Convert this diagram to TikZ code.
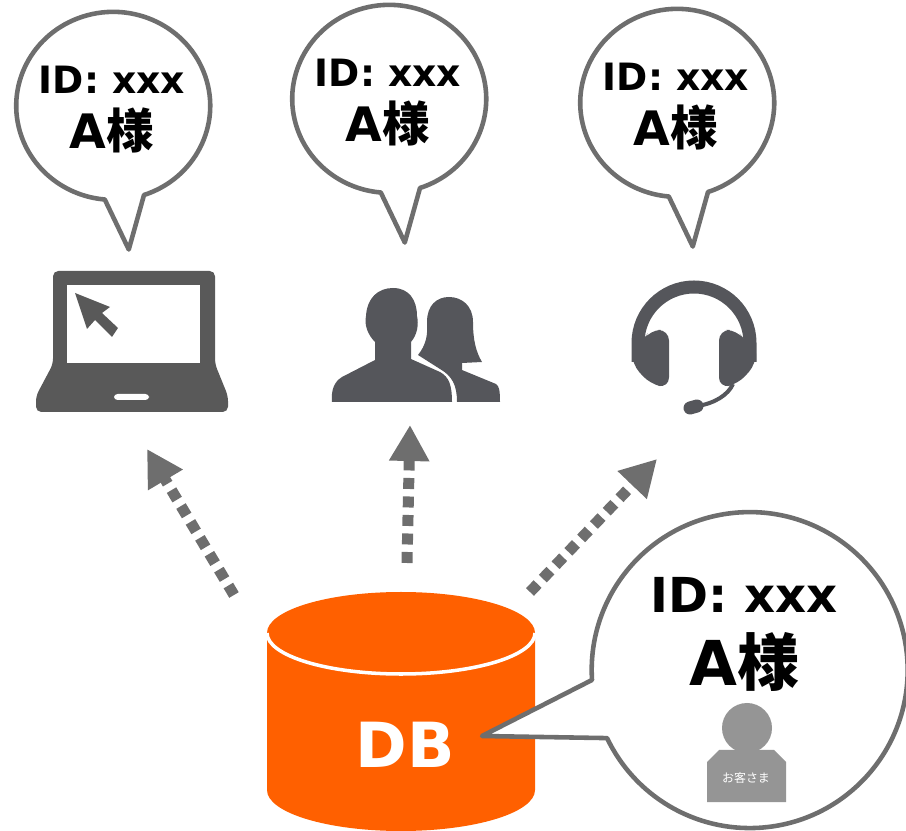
\documentclass[tikz,border=0pt]{standalone}
\usepackage{fontspec}
\setmainfont{DejaVu Sans}
\newfontfamily\jpfont{Noto Sans CJK JP}
\usetikzlibrary{arrows.meta}
\newcommand{\sama}{A{\jpfont 様}}
\definecolor{dborange}{HTML}{FF6000}
\definecolor{bubbleline}{HTML}{6E6E6E}
\definecolor{icongray}{HTML}{595959}
\definecolor{icondark}{HTML}{55565B}
\definecolor{staffgray}{HTML}{959595}
\tikzset{
  bubble/.style={draw=bubbleline,line width=1.3pt,fill=white,line join=round},
  idlabel/.style={font=\bfseries\fontsize{10.7}{12}\selectfont,inner sep=0pt},
  namelabel/.style={font=\bfseries\fontsize{13.5}{15}\selectfont,inner sep=0pt},
  flow/.style={draw=bubbleline,line width=.11cm,dash pattern=on .11cm off .075cm,
    -{Triangle[length=.36cm,width=.38cm,fill=bubbleline]}},
}
\begin{document}
\begin{tikzpicture}[x=.01cm,y=-.01cm]
\useasboundingbox (0,0) rectangle (906,831);
% small balloons
\foreach \nm/\bx/\by in {laptop/113/106,people/389/99,headset/677/103}{
  \draw[bubble] (\bx,\by) ++(31,89) arc[start angle=71.5,end angle=-265,x radius=97,y radius=94]
    -- ++(24,50) -- cycle;
  \node[idlabel] (id\nm) at (\bx-1,\by-26) {ID: xxx};
  \node[namelabel] (name\nm) at (\bx-1,\by+24) {\sama};
}
% laptop
\fill[icongray,rounded corners=1.5pt] (53,364) -- (53,271) -- (215,271) -- (215,364) -- (228,396)
  -- (228,412) -- (36,412) -- (36,396) -- cycle;
\fill[white] (67,285) rectangle (200,363);
\fill[icongray] (75,293) -- (110,307) -- (102,313) -- (118,328) -- (112,337) -- (95,320) -- (87,329) -- cycle;
\fill[white,rounded corners=1pt] (114,394) rectangle (149,400);
% people
\fill[icondark] (418,355) .. controls (426,345) and (428,335) .. (427,322)
  .. controls (427,305) and (437,297) .. (449,297)
  .. controls (462,297) and (473,306) .. (473,322)
  .. controls (473,340) and (476,352) .. (482,362) -- (462,363)
  -- (462,370) -- (496,384) .. controls (499,386) and (500,390) .. (500,402) -- (457,402)
  .. controls (457,385) and (452,376) .. (440,369) -- cycle;
\fill[icondark] (393,288) .. controls (409,288) and (417,300) .. (417,316)
  .. controls (419,325) and (417,335) .. (411,342) -- (411,359)
  -- (440,372) .. controls (449,377) and (452,385) .. (452,402) -- (332,402)
  .. controls (331,390) and (334,382) .. (342,377) -- (375,360) -- (375,342)
  .. controls (368,335) and (364,325) .. (366,316)
  .. controls (367,298) and (378,288) .. (393,288) -- cycle;
% headset
\draw[icondark,line width=.13cm] (638,362) -- (638,343) arc[start angle=180,end angle=360,radius=56] -- (750,362);
\fill[icondark,rounded corners=3pt] (632,350) -- (632,364) -- (650,384) -- (669,388) -- (669,330) -- (650,330) -- (642,342) -- cycle;
\fill[icondark,rounded corners=3pt] (756,350) -- (756,364) -- (738,384) -- (719,388) -- (719,330) -- (737,330) -- (746,342) -- cycle;
\draw[icondark,line width=.04cm] (733,384) .. controls (728,395) and (715,403) .. (698,406);
\draw[icondark,line width=.13cm,line cap=round] (690,408) -- (697,406);
% arrows
\coordinate (laptopfrom) at (234,595);
\coordinate (laptopto) at (147,449);
\coordinate (peoplefrom) at (407,563);
\coordinate (peopleto) at (410,425);
\coordinate (headsetfrom) at (530,592);
\coordinate (headsetto) at (657,459);
\draw[flow] (laptopfrom) -- (laptopto);
\draw[flow] (peoplefrom) -- (peopleto);
\draw[flow] (headsetfrom) -- (headsetto);
% database
\fill[dborange] (267,633) arc[start angle=180,end angle=360,x radius=134,y radius=41] -- (535,790)
  arc[start angle=0,end angle=180,x radius=134,y radius=41] -- cycle;
\draw[white,line width=1pt] (267,633) arc[start angle=180,end angle=0,x radius=134,y radius=41];
\node[font=\bfseries\fontsize{17.7}{20}\selectfont,text=white,inner sep=0pt] (db) at (405,745) {DB};
% big balloon
\draw[bubble] (592,680) arc[start angle=176.4,end angle=514.5,radius=158] -- (482,736) -- cycle;
\node[idlabel,font=\bfseries\fontsize{13.7}{15}\selectfont] (idbig) at (744,595) {ID: xxx};
\node[namelabel,font=\bfseries\fontsize{17.6}{19}\selectfont] (namebig) at (744,662) {\sama};
% staff figure
\fill[staffgray] (747,728) circle[radius=25];
\fill[staffgray] (707,802) -- (707,762) -- (719,750) -- (774,750) -- (786,762) -- (786,802) -- cycle;
\node[text=white,inner sep=0pt,font=\jpfont\fontsize{3.4}{4}\selectfont] (staff) at (746,778) {お客さま};
\end{tikzpicture}
\end{document}
